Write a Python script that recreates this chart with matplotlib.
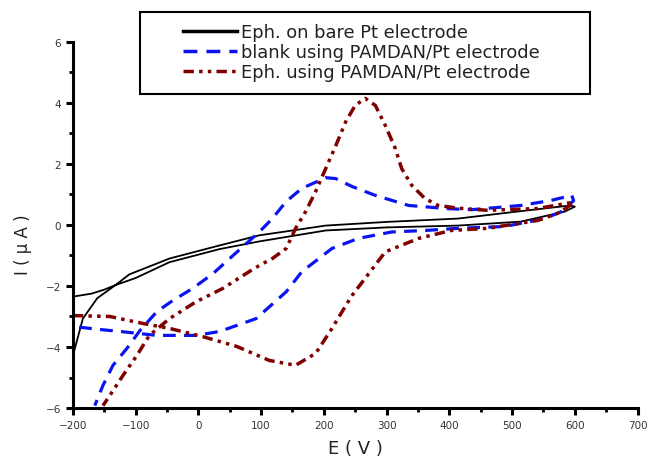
import matplotlib
matplotlib.use("Agg")
import matplotlib.pyplot as plt
from matplotlib.ticker import MultipleLocator
from matplotlib.patches import Rectangle

# Bare Pt electrode (black) - closed loop
bare_E = [-200, -170, -150, -132, -100, -46, 34, 97, 203, 300, 414, 514, 584, 600,
          593, 500, 414, 300, 203, 97, 34, -46, -110, -132, -161, -184, -200]
bare_I = [-2.35, -2.25, -2.12, -1.97, -1.74, -1.22, -0.79, -0.54, -0.18, -0.08, -0.02, 0.11, 0.44, 0.6,
          0.64, 0.42, 0.21, 0.1, -0.02, -0.34, -0.67, -1.1, -1.62, -1.97, -2.4, -3.07, -4.3]

# Blank using PAMDAN/Pt (blue dashed)
blank_E = [-190, -160, -125, -66, -3, 34, 92, 140, 165, 213, 255, 308, 362, 414, 488, 552, 580, 598,
           595, 561, 514, 435, 394, 335, 282, 245, 219, 203, 165, 140, 118, 97, 23, -9, -41, -66, -93,
           -114, -136, -152, -165]
blank_I = [-3.35, -3.42, -3.49, -3.62, -3.62, -3.49, -3.07, -2.19, -1.53, -0.77, -0.44, -0.23, -0.18,
           -0.11, -0.05, 0.21, 0.45, 0.8,
           0.97, 0.8, 0.64, 0.5, 0.54, 0.64, 0.97, 1.26, 1.52, 1.55, 1.2, 0.77, 0.21, -0.23, -1.6, -2.08,
           -2.48, -2.84, -3.46, -4.05, -4.6, -5.26, -5.92]

# Eph. using PAMDAN/Pt (dark red dash-dot-dot)
eph_E = [-200, -141, -88, -46, 7, 61, 113, 155, 187, 213, 235, 245, 298, 351, 403, 461, 541, 575, 598,
         590, 541, 461, 414, 382, 361, 340, 324, 314, 298, 282, 266, 250, 235, 219, 203, 187, 171, 155,
         140, 118, 97, 81, 39, -3, -46, -78, -98, -120, -141, -152]
eph_I = [-2.97, -3.0, -3.23, -3.39, -3.66, -3.98, -4.44, -4.6, -4.21, -3.39, -2.64, -2.31, -0.88, -0.44,
         -0.18, -0.11, 0.15, 0.4, 0.72,
         0.72, 0.54, 0.48, 0.55, 0.64, 0.87, 1.3, 1.85, 2.5, 3.26, 3.92, 4.15, 3.92, 3.39, 2.6, 1.85, 1.1,
         0.44, -0.11, -0.77, -1.1, -1.33, -1.53, -2.08, -2.51, -3.07, -3.62, -4.28, -4.93, -5.59, -5.92]

labels = ["Eph. on bare Pt electrode",
          "blank using PAMDAN/Pt electrode",
          "Eph. using PAMDAN/Pt electrode"]

W, H = 656, 464
fig = plt.figure(figsize=(6.56, 4.64), dpi=100)
ax = fig.add_axes([0.111, 0.1185, 0.861, 0.789])

ax.plot(bare_E, bare_I, color="black", lw=1.3, label=labels[0])
ax.plot(blank_E, blank_I, color="#0a14f0", lw=2.3, linestyle=(0, (4, 2.6)), label=labels[1])
ax.plot(eph_E, eph_I, color="#800000", lw=2.5, linestyle=(0, (3, 1.5, 1, 1.5, 1, 1.5)), label=labels[2])

ax.set_xlim(-200, 700)
ax.set_ylim(-6, 6)
ax.xaxis.set_major_locator(MultipleLocator(100))
ax.xaxis.set_minor_locator(MultipleLocator(50))
ax.yaxis.set_major_locator(MultipleLocator(2))
ax.yaxis.set_minor_locator(MultipleLocator(1))
for s in ["top", "right"]:
    ax.spines[s].set_visible(False)
for s in ["left", "bottom"]:
    ax.spines[s].set_linewidth(2.2)
ax.tick_params(which="major", direction="out", length=5, width=2.2, labelsize=7.5, labelcolor="#333333")
ax.tick_params(which="minor", direction="out", length=3, width=2)

ax.set_xlabel("E ( V )", fontsize=13, color="#222222")
ax.set_ylabel("I ( μ A )", fontsize=12, color="#222222")
ax.xaxis.set_label_coords(0.5, -0.085)
ax.yaxis.set_label_coords(-0.072, 0.45)

leg = fig.legend(loc="upper left", bbox_to_anchor=(183 / W, 1 - 24 / H), fontsize=12.9, frameon=False,
                 handlelength=3.0, handletextpad=0.25, borderpad=0, labelspacing=0.12,
                 borderaxespad=0)
for t in leg.get_texts():
    t.set_color("#222222")
for h in leg.get_lines():
    h.set_linewidth(2.5)

fig.patches.append(Rectangle((140 / W, 1 - 95 / H), 450 / W, 82 / H, transform=fig.transFigure,
                             fill=False, edgecolor="black", lw=1.5, zorder=5))

fig.savefig("out.png", dpi=100)
